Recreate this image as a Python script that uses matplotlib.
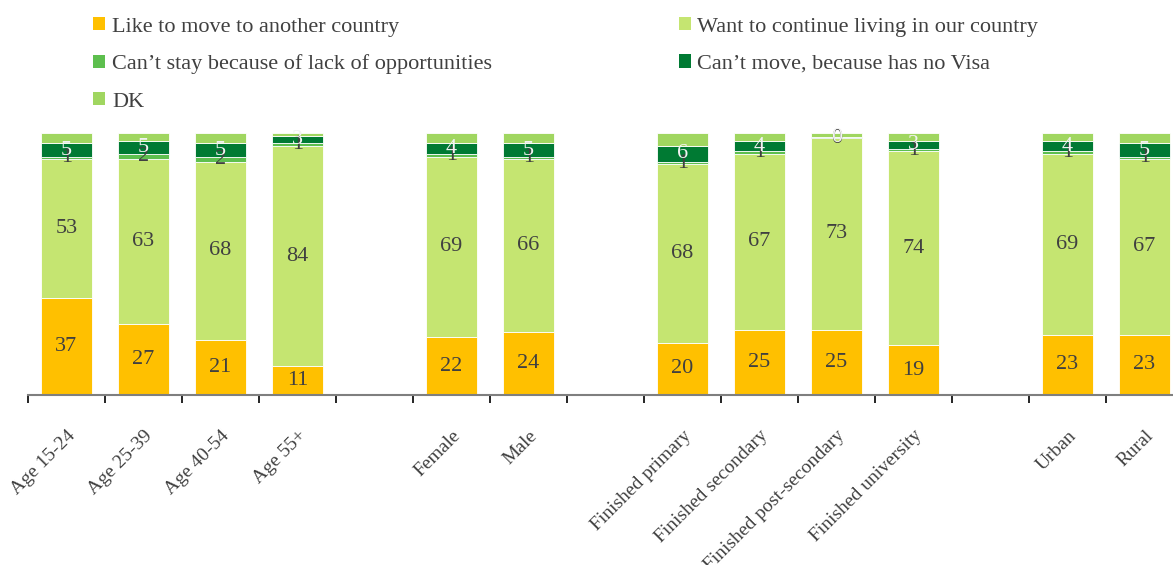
import numpy as np
import matplotlib
matplotlib.use("Agg")
import matplotlib.pyplot as plt
from matplotlib.patches import Patch

categories = ["Age 15-24", "Age 25-39", "Age 40-54", "Age 55+", "",
              "Female", "Male", "",
              "Finished primary", "Finished secondary", "Finished post-secondary",
              "Finished university", "", "Urban", "Rural"]
nan = np.nan
like_move = [37, 27, 21, 11, nan, 22, 24, nan, 20, 25, 25, 19, nan, 23, 23]
want_stay = [53, 63, 68, 84, nan, 69, 66, nan, 68, 67, 73, 74, nan, 69, 67]
cant_stay = [1, 2, 2, 1, nan, 1, 1, nan, 1, 1, 0, 1, nan, 1, 1]
no_visa = [5, 5, 5, 3, nan, 4, 5, nan, 6, 4, 0.4, 3, nan, 4, 5]
dk = [4, 3, 4, 1, nan, 4, 4, nan, 5, 3, 1.6, 3, nan, 3, 4]

series = [
    ("Like to move to another country", like_move, "#FFC000", "#404040", True),
    ("Want to continue living in our country", want_stay, "#C5E571", "#404040", True),
    ("Can\u2019t stay because of lack of opportunities", cant_stay, "#5DBF4E", "#404040", True),
    ("Can\u2019t move, because has no Visa", no_visa, "#007A33", "#F2F2F2", True),
    ("DK", dk, "#A0D660", "#404040", False),
]

FONT = "Liberation Serif"
plt.rcParams["font.family"] = FONT

fig = plt.figure(figsize=(11.73, 5.65), dpi=100)
W, H = 1173, 565
ax = fig.add_axes([28 / W, (H - 395) / H, (15 * 77) / W, (395 - 133) / H])

x = np.arange(len(categories))
bottom = np.zeros(len(categories))
for name, vals, color, tcol, show in series:
    v = np.array(vals, dtype=float)
    ax.bar(x, np.nan_to_num(v), bottom=bottom, width=0.66, color=color,
           edgecolor="white", linewidth=0.6)
    if show:
        for xi, (b, h) in enumerate(zip(bottom, v)):
            if np.isnan(h):
                continue
            ax.text(xi, b + h / 2, f"{h:.0f}", ha="center", va="center",
                    color=tcol, fontsize=16)
    bottom = bottom + np.nan_to_num(v)

ax.set_xlim(-0.5, len(categories) - 0.5)
ax.set_ylim(0, 100)
ax.set_yticks([])
for s in ["top", "right", "left"]:
    ax.spines[s].set_visible(False)
ax.spines["bottom"].set_color("#7f7f7f")
ax.spines["bottom"].set_linewidth(1.5)

ax.set_xticks(np.arange(len(categories) + 1) - 0.5)
ax.set_xticklabels([])
ax.tick_params(axis="x", which="major", length=6, width=1.2, color="black", direction="out")
ax.set_xticks(x, minor=True)
ax.set_xticklabels(categories, minor=True, rotation=45, ha="right",
                   rotation_mode="anchor", fontsize=14, color="#404040")
ax.tick_params(axis="x", which="minor", length=0, pad=23)

order = [0, 2, 4, 1, 3]
handles = [Patch(facecolor=series[i][2], edgecolor="none") for i in order]
labels = [series[i][0] for i in order]
fig.legend(handles, labels, loc="upper left", bbox_to_anchor=(73 / W, 1 + 3 / H),
           ncol=2, frameon=False, fontsize=16, handlelength=0.55, handleheight=0.55,
           handletextpad=0.3, columnspacing=8.4, labelspacing=0.8,
           labelcolor="#404040")

fig.savefig("out.png", dpi=100)
